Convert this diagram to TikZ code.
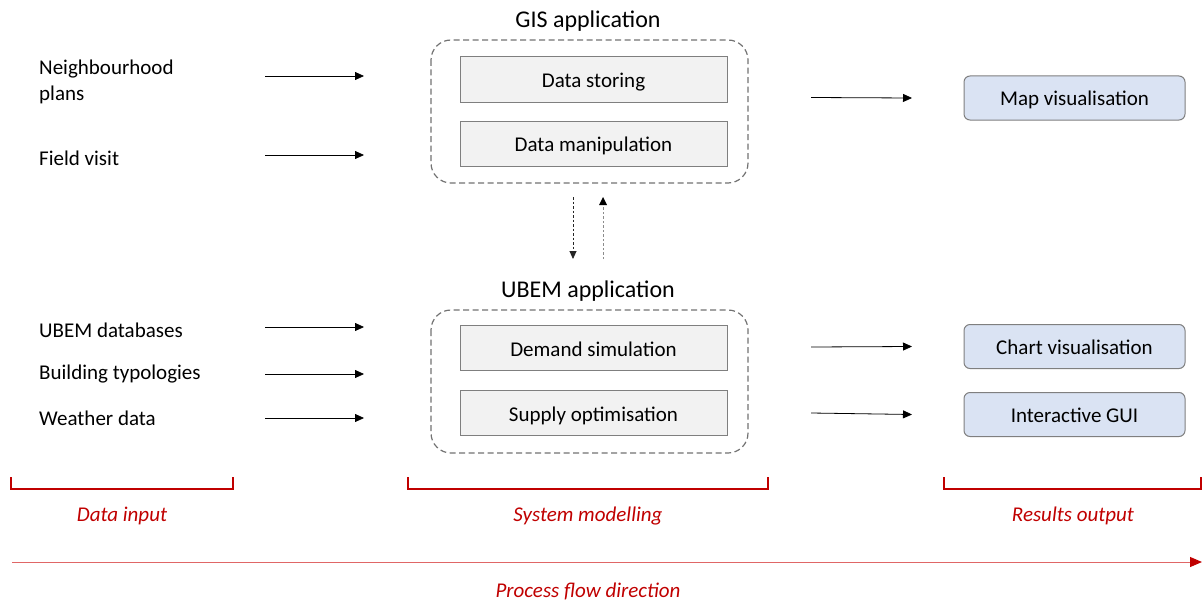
\documentclass[tikz,border=0pt]{standalone}
\usepackage{fontspec}
\setmainfont{Carlito}
\usetikzlibrary{arrows.meta}
\definecolor{boxgray}{HTML}{F2F2F2}
\definecolor{edgegray}{HTML}{7F7F7F}
\definecolor{outblue}{HTML}{DAE3F3}
\definecolor{darkred}{HTML}{C00000}
\definecolor{lightred}{HTML}{E06666}
\tikzset{
  x=1pt, y=-1pt,
  group/.style={draw=edgegray!90!black, dash pattern=on 6pt off 3.5pt, line width=1.2pt, rounded corners=20pt},
  task/.style={draw=edgegray, fill=boxgray, line width=1pt, minimum width=267pt, minimum height=45pt, font=\fontsize{21}{24}\selectfont, inner sep=0pt, text height=18pt, text depth=2pt},
  outbox/.style={draw=edgegray, fill=outblue, line width=1pt, rounded corners=6pt, minimum width=221pt, minimum height=44pt, font=\fontsize{21}{24}\selectfont, inner sep=0pt, text height=18pt, text depth=2pt},
  title/.style={font=\fontsize{24}{28}\selectfont},
  inlabel/.style={anchor=west, align=left, font=\fontsize{21}{26}\selectfont, inner sep=0pt},
  flow/.style={-{Triangle[length=9pt,width=8pt]}, line width=0.8pt},
  phase/.style={darkred, font=\fontsize{21}{24}\selectfont\itshape},
  bracketline/.style={darkred, line width=2pt},
}
\begin{document}
\begin{tikzpicture}
\useasboundingbox (0,0) rectangle (1202,602);

% GIS application
\node[title] (gist) at (588,21.5) {GIS application};
\draw[group] (431,40) rectangle (748,183);
\node[task] (store) at (593.5,79.5) {Data storing};
\node[task] (manip) at (593.5,143.5) {Data manipulation};

% UBEM application
\node[title] (ubemt) at (588,291.5) {UBEM application};
\draw[group] (431,310) rectangle (748,453);
\node[task] (demand) at (593.5,348) {Demand simulation};
\node[task] (supply) at (593.5,413) {Supply optimisation};

% Data inputs
\node[inlabel] (plans) at (39,82) {Neighbourhood\\plans};
\node[inlabel] (field) at (39,158) {Field visit};
\node[inlabel] (dbs) at (39,330) {UBEM databases};
\node[inlabel] (typ) at (39,374) {Building typologies};
\node[inlabel] (wea) at (39,418) {Weather data};

\coordinate (a1s) at (265,76);  \coordinate (a1e) at (364,76);
\coordinate (a2s) at (265,155); \coordinate (a2e) at (364,155);
\coordinate (a3s) at (265,327); \coordinate (a3e) at (364,327);
\coordinate (a4s) at (265,374); \coordinate (a4e) at (364,374);
\coordinate (a5s) at (265,418); \coordinate (a5e) at (364,418);
\foreach \i in {1,...,5} \draw[flow] (a\i s) -- (a\i e);

% Results output
\node[outbox] (map) at (1074.5,98) {Map visualisation};
\node[outbox] (chart) at (1074.5,346.5) {Chart visualisation};
\node[outbox] (gui) at (1074.5,414.5) {Interactive GUI};

\coordinate (o1) at (811,97.5);
\coordinate (o2) at (811,347);
\coordinate (o3) at (811,413);
\draw[flow] (o1) -- (map.west -| 912,0);
\draw[flow] (o2) -- (chart.west -| 912,0);
\draw[flow] (o3) -- (gui.west -| 912,0);

% Exchange between the two applications
\coordinate (d1) at (573,197); \coordinate (d2) at (573,259);
\coordinate (u1) at (603,259); \coordinate (u2) at (603,197);
\draw[-{Triangle[length=8pt,width=7pt]}, line width=0.9pt, dash pattern=on 2.5pt off 2pt, black!85] (d1) -- (d2);
\draw[line width=0.9pt, dash pattern=on 2.5pt off 2pt, black!45] (u1) -- (603,204);
\fill[black] (u2) -- (599,205) -- (607,205) -- cycle;

% Phase brackets
\draw[bracketline] (11,477) -- (11,489) -- (233,489) -- (233,477);
\draw[bracketline] (408,477) -- (408,489) -- (768,489) -- (768,477);
\draw[bracketline] (944,477) -- (944,489) -- (1201,489) -- (1201,477);
\node[phase] (pin) at (122,516) {Data input};
\node[phase] (psys) at (588,516) {System modelling};
\node[phase] (pout) at (1073,516) {Results output};

% Process direction
\coordinate (fs) at (12,562);
\coordinate (fe) at (1202,562);
\draw[lightred, line width=1pt, -{Triangle[length=12pt,width=10pt,color=darkred]}] (fs) -- (fe);
\node[phase] (pflow) at (588,591) {Process flow direction};
\end{tikzpicture}
\end{document}
